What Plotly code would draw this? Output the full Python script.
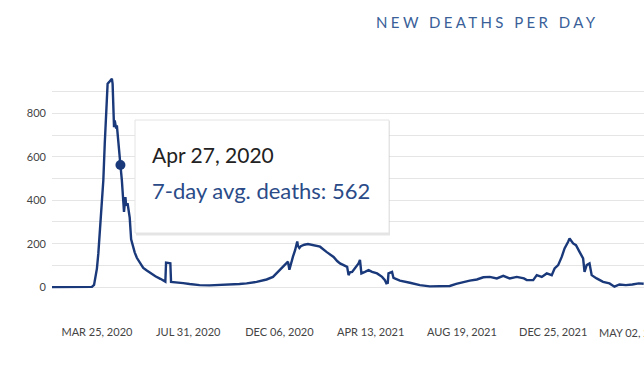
import plotly.graph_objects as go

# ---- data (7-day average new deaths) ----
dates = [
    "2020-01-22", "2020-03-10", "2020-03-18", "2020-03-21", "2020-03-23", "2020-03-25",
    "2020-03-27", "2020-03-29", "2020-04-01", "2020-04-03", "2020-04-05", "2020-04-07",
    "2020-04-08", "2020-04-09", "2020-04-11", "2020-04-13", "2020-04-15", "2020-04-16",
    "2020-04-17", "2020-04-18", "2020-04-19", "2020-04-20", "2020-04-21", "2020-04-22",
    "2020-04-23", "2020-04-25", "2020-04-27", "2020-04-29", "2020-05-01", "2020-05-02",
    "2020-05-04", "2020-05-05", "2020-05-07", "2020-05-09", "2020-05-10", "2020-05-12",
    "2020-05-15", "2020-05-17", "2020-05-20", "2020-05-24", "2020-05-29", "2020-06-03",
    "2020-06-08", "2020-06-15", "2020-06-22", "2020-06-29", "2020-06-30", "2020-07-03",
    "2020-07-06", "2020-07-07", "2020-07-15", "2020-07-24", "2020-08-02", "2020-08-16",
    "2020-08-30", "2020-09-13", "2020-09-27", "2020-10-11", "2020-10-21", "2020-11-04",
    "2020-11-18", "2020-11-27", "2020-12-07", "2020-12-14", "2020-12-18", "2020-12-20",
    "2020-12-21", "2020-12-23", "2020-12-25", "2020-12-28", "2020-12-30", "2020-12-31",
    "2021-01-01", "2021-01-03", "2021-01-05", "2021-01-10", "2021-01-15", "2021-01-22",
    "2021-02-01", "2021-02-10", "2021-02-20", "2021-02-25", "2021-03-01", "2021-03-06",
    "2021-03-11", "2021-03-13", "2021-03-15", "2021-03-18", "2021-03-23", "2021-03-27",
    "2021-03-29", "2021-03-30", "2021-03-31", "2021-04-05", "2021-04-10", "2021-04-15",
    "2021-04-22", "2021-04-29", "2021-05-03", "2021-05-05", "2021-05-07", "2021-05-08",
    "2021-05-13", "2021-05-15", "2021-05-17", "2021-05-24", "2021-06-07", "2021-06-21",
    "2021-07-05", "2021-07-19", "2021-08-02", "2021-08-11", "2021-08-21", "2021-08-30",
    "2021-09-09", "2021-09-18", "2021-09-27", "2021-10-07", "2021-10-16", "2021-10-25",
    "2021-11-04", "2021-11-14", "2021-11-18", "2021-11-27", "2021-12-02", "2021-12-09",
    "2021-12-16", "2021-12-23", "2021-12-27", "2022-01-01", "2022-01-06", "2022-01-10",
    "2022-01-15", "2022-01-17", "2022-01-22", "2022-01-26", "2022-01-31", "2022-02-05",
    "2022-02-07", "2022-02-10", "2022-02-14", "2022-02-17", "2022-02-24", "2022-03-05",
    "2022-03-14", "2022-03-21", "2022-03-28", "2022-04-06", "2022-04-15", "2022-04-24",
    "2022-05-01",
]
deaths = [
    0, 0, 1, 10, 40, 85,
    155, 247, 354, 492, 660, 798,
    890, 937, 944, 950, 960, 937,
    798, 737, 768, 740, 730, 745,
    699, 620, 562, 492, 386, 346,
    415, 375, 386, 340, 320, 220,
    175, 160, 135, 112, 88, 76,
    64, 50, 38, 25, 113, 111,
    110, 24, 22, 18, 14, 9,
    8, 9, 12, 14, 17, 24,
    35, 47, 80, 105, 117, 80,
    95, 124, 140, 170, 195, 210,
    190, 180, 188, 195, 198, 193,
    186, 162, 139, 120, 109, 101,
    93, 55, 68, 70, 93, 109,
    125, 95, 63, 70, 78, 70,
    63, 47, 32, 18, 20, 63,
    70, 42, 40, 30, 20, 9,
    3, 3, 5, 15, 24, 30,
    35, 45, 47, 40, 52, 40,
    47, 40, 32, 32, 55, 47,
    63, 55, 86, 101, 139, 178,
    209, 224, 201, 193, 162, 132,
    70, 101, 109, 55, 40, 24,
    17, 2, 12, 9, 12, 17,
    15,
]

highlight_date = ["2020-04-27"]
highlight_value = [562]
highlight_label = "Apr 27, 2020"

x_tick_dates = ["2020-03-25", "2020-07-31", "2020-12-06", "2021-04-13",
                "2021-08-19", "2021-12-25"]
x_tick_labels = ["MAR 25, 2020", "JUL 31, 2020", "DEC 06, 2020", "APR 13, 2021",
                 "AUG 19, 2021", "DEC 25, 2021"]
x_last_label = "MAY 02, 2022"  # end label, pushed inside the chart edge

y_grid_vals = [-100, 0, 100, 200, 300, 400, 500, 600, 700, 800, 900]
y_tick_labels = ["", "0", "", "200", "", "400", "", "600", "", "800", ""]

title_text = "NEW DEATHS PER DAY"

LINE = "#1a397a"
FONT = "Lato, 'Source Sans Pro', sans-serif"

fig = go.Figure()
fig.add_trace(go.Scatter(x=dates, y=deaths, mode="lines",
                         line=dict(color=LINE, width=2.4), hoverinfo="skip",
                         showlegend=False))
fig.add_trace(go.Scatter(x=highlight_date, y=highlight_value, mode="markers",
                         marker=dict(color=LINE, size=10), hoverinfo="skip",
                         showlegend=False))

PL, PT, PW, PH = 52, 70, 592, 239  # plot area in pixels


def px(x):
    return (x - PL) / PW


def py(y):
    return (PT + PH - y) / PH


# tooltip box (shadow + body)
fig.add_shape(type="rect", xref="paper", yref="paper", x0=px(136), x1=px(390),
              y0=py(235.5), y1=py(121),
              fillcolor="rgba(0,0,0,0.10)", line=dict(width=0), layer="above")
fig.add_shape(type="rect", xref="paper", yref="paper", x0=px(135), x1=px(389),
              y0=py(233), y1=py(120),
              fillcolor="white", line=dict(color="#e4e4e4", width=1), layer="above")

fig.add_annotation(xref="paper", yref="paper", x=px(150), y=py(154),
                   text=highlight_label, showarrow=False, xanchor="left", yanchor="middle",
                   font=dict(family=FONT, size=21, color="#222222"))
fig.add_annotation(xref="paper", yref="paper", x=px(150), y=py(190),
                   text=f"7-day avg. deaths: {highlight_value[0]}", showarrow=False,
                   xanchor="left", yanchor="middle",
                   font=dict(family=FONT, size=22, color="#2a4b88"))
fig.add_annotation(xref="paper", yref="paper", x=px(487), y=py(22),
                   text=f'<span style="letter-spacing:3.4px">{title_text}</span>',
                   showarrow=False, xanchor="center", yanchor="middle",
                   font=dict(family=FONT, size=15, color="#3a5f99"))
fig.add_annotation(xref="paper", yref="paper", x=px(597), y=py(332),
                   text=x_last_label, showarrow=False, xanchor="left", yanchor="middle",
                   font=dict(family=FONT, size=11, color="#444444"))

fig.update_layout(
    width=644, height=374,
    margin=dict(l=PL, r=644 - PL - PW, t=PT, b=374 - PT - PH, autoexpand=False),
    paper_bgcolor="white", plot_bgcolor="white",
    font=dict(family=FONT, color="#444444"),
    hovermode=False,
    xaxis=dict(type="date", range=["2020-01-22", "2022-05-01 10:00"],
               tickmode="array", tickvals=x_tick_dates, ticktext=x_tick_labels,
               tickfont=dict(size=11, color="#444444"), showgrid=False, zeroline=False,
               showline=False, ticks="", ticklabelstandoff=15, ticklabeloverflow="allow",
               automargin=False, fixedrange=True),
    yaxis=dict(range=[-101, 1000], tickmode="array", tickvals=y_grid_vals,
               ticktext=y_tick_labels, showgrid=True, gridcolor="#e5e5e5", gridwidth=1,
               zeroline=False, showline=False, ticks="", ticklabelstandoff=5,
               tickfont=dict(size=11, color="#444444"), automargin=False, fixedrange=True),
)

fig.write_html("out.html", config={"displayModeBar": False},
               post_script="document.body.style.margin='0';document.body.style.overflow='hidden';")
